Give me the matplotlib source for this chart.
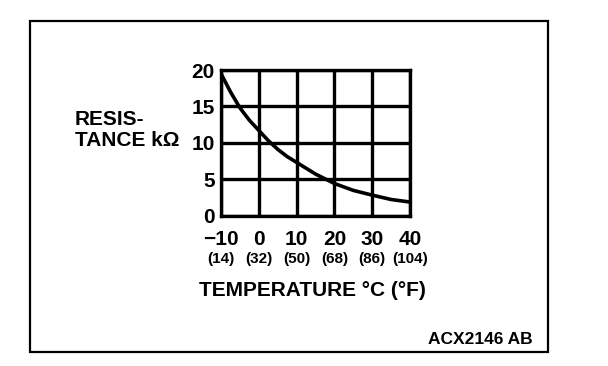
import numpy as np
import matplotlib.pyplot as plt

plt.rcParams['font.family'] = ['Liberation Sans', 'DejaVu Sans']
plt.rcParams['font.weight'] = 'bold'

temp_c = [-10, -7.5, -5, -2.5, 0, 2.5, 5, 7.5, 10, 15, 20, 25, 30, 35, 40]
resistance = [19.5, 17.0, 14.8, 13.1, 11.7, 10.3, 9.1, 8.1, 7.3, 5.7, 4.4, 3.45, 2.8, 2.2, 1.85]

x_ticks = [-10, 0, 10, 20, 30, 40]
x_labels = ["\u221210", "0", "10", "20", "30", "40"]
f_labels = ["(14)", "(32)", "(50)", "(68)", "(86)", "(104)"]
y_ticks = [0, 5, 10, 15, 20]

fig = plt.figure(figsize=(6.08, 3.66), dpi=100)

# outer frame
frame = plt.Rectangle((30/608, 1-352/366), 518/608, 331/366, transform=fig.transFigure,
                      fill=False, edgecolor="black", linewidth=1.6)
fig.patches.append(frame)

ax = fig.add_axes([221/608, 1-215.5/366, 189/608, 145.5/366])
ax.plot(temp_c, resistance, color="black", linewidth=2.6, solid_capstyle="butt")
ax.set_xlim(-10, 40)
ax.set_ylim(0, 20)
ax.set_xticks(x_ticks)
ax.set_xticklabels(x_labels, fontsize=15, fontweight="bold")
ax.set_yticks(y_ticks)
ax.set_yticklabels([str(v) for v in y_ticks], fontsize=15, fontweight="bold")
ax.tick_params(length=0)
ax.tick_params(axis="y", pad=4.5)
ax.tick_params(axis="x", pad=10.5)
ax.grid(True, color="black", linewidth=2.4)
for s in ax.spines.values():
    s.set_linewidth(2.4)

for xv, lab in zip(x_ticks, f_labels):
    ax.text(xv, -0.297, lab, transform=ax.get_xaxis_transform(), ha="center", va="center",
            fontsize=11, fontweight="bold")

fig.text(75/608, 1-120/366, "RESIS-", ha="left", va="center", fontsize=15, fontweight="bold")
fig.text(75/608, 1-140/366, "TANCE k\u03a9", ha="left", va="center", fontsize=15, fontweight="bold")
fig.text(312.5/608, 1-291/366, "TEMPERATURE \u00b0C (\u00b0F)", ha="center", va="center",
         fontsize=15, fontweight="bold")
fig.text(533/608, 1-339/366, "ACX2146 AB", ha="right", va="center", fontsize=12.5,
         fontweight="bold")

fig.savefig("out.png", dpi=100)
